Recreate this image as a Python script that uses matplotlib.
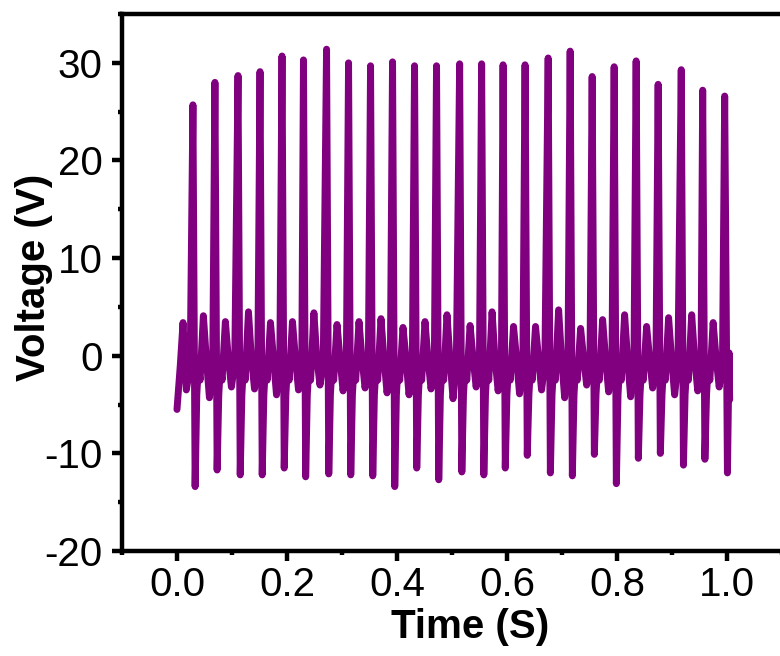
import numpy as np
import matplotlib.pyplot as plt
from matplotlib.ticker import MultipleLocator

plt.rcParams['font.family'] = ['Liberation Sans', 'DejaVu Sans']
plt.rcParams['axes.unicode_minus'] = False

# spike times (s) and heights
spike_t = [0.029, 0.069, 0.111, 0.151, 0.191, 0.230, 0.272, 0.312, 0.352, 0.392,
           0.432, 0.472, 0.514, 0.554, 0.593, 0.633, 0.675, 0.715, 0.755, 0.795,
           0.835, 0.875, 0.917, 0.956, 0.996]
peaks = [25.7, 28.0, 28.7, 29.1, 30.7, 30.3, 31.4, 30.0, 29.7, 30.1,
         29.7, 29.7, 29.9, 29.9, 29.8, 29.8, 30.5, 31.2, 28.6, 29.6,
         30.2, 27.8, 29.3, 27.2, 26.6]
troughs = [-13.4, -11.7, -12.2, -12.2, -11.5, -12.4, -12.1, -12.2, -12.3, -13.4,
           -11.5, -12.7, -11.9, -12.2, -11.5, -10.2, -12.0, -12.3, -10.1, -13.1,
           -10.5, -10.0, -11.2, -10.6, -12.0]
# small oscillation between spikes
bumps = [4.1, 3.5, 4.5, 3.4, 3.5, 4.4, 3.2, 3.5, 3.8, 2.9, 3.5, 4.2,
         3.1, 4.5, 3.0, 3.0, 4.7, 2.8, 3.7, 4.2, 3.0, 3.9, 4.2, 3.4]
dips = [-4.3, -3.2, -3.4, -4.0, -3.5, -3.0, -3.6, -3.3, -3.8, -4.0, -3.4, -4.4,
        -3.2, -3.6, -3.9, -3.5, -4.3, -3.0, -3.7, -4.2, -3.3, -4.0, -3.6, -3.2]

# start of the record and its end
start_t = [0.0, 0.006, 0.011, 0.017, 0.024]
start_v = [-5.5, -1.0, 3.4, -3.5, -1.0]
end_t = [1.001, 1.004, 1.005]
end_v = [-12.0, 0.3, -4.5]

# build the trace cycle by cycle
t = list(start_t)
v = list(start_v)
for i in range(len(spike_t)):
    s = spike_t[i]
    t += [s, s + 0.004]
    v += [peaks[i], troughs[i]]
    if i < len(bumps):
        t += [s + 0.007, s + 0.010, s + 0.013, s + 0.019, s + 0.024, s + 0.030, s + 0.036]
        v += [-4.0, -1.0, -2.5, bumps[i], 0.0, dips[i], -0.8]
t = t[:-1] + end_t
v = v[:-1] + end_v

fig = plt.figure(figsize=(7.8, 6.56), dpi=100)
ax = fig.add_axes([0.1564, 0.160, 0.846, 0.8186])
ax.plot(t, v, color='#800080', lw=5, solid_capstyle='round', solid_joinstyle='round')

ax.set_xlim(-0.1, 1.1)
ax.set_ylim(-20, 35)
ax.set_xticks([0.0, 0.2, 0.4, 0.6, 0.8, 1.0])
ax.set_xticklabels(['0.0', '0.2', '0.4', '0.6', '0.8', '1.0'])
ax.set_yticks([-20, -10, 0, 10, 20, 30])
ax.xaxis.set_minor_locator(MultipleLocator(0.1))
ax.yaxis.set_minor_locator(MultipleLocator(5))

for sp in ax.spines.values():
    sp.set_linewidth(3.2)
ax.tick_params(which='major', direction='out', length=7, width=3.2, labelsize=29)
ax.tick_params(axis='y', which='major', pad=7)
ax.tick_params(axis='x', which='major', pad=4)
ax.tick_params(which='minor', direction='out', length=3, width=3.2)
ax.tick_params(top=False, right=False)

ax.set_xlabel('Time (S)', fontsize=29, fontweight='bold')
ax.set_ylabel('Voltage (V)', fontsize=29, fontweight='bold')
ax.xaxis.set_label_coords(0.527, -0.106)
ax.yaxis.set_label_coords(-0.1045, 0.51)

fig.savefig('out.png', dpi=100)
